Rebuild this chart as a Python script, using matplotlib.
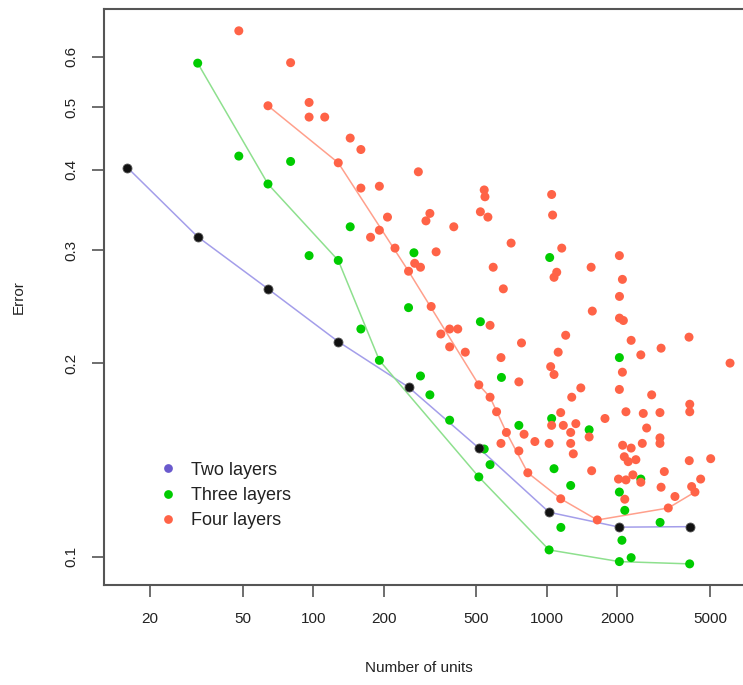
import matplotlib
matplotlib.use("Agg")
import matplotlib.pyplot as plt
from matplotlib.lines import Line2D

plt.rcParams['font.family'] = ['Liberation Sans', 'DejaVu Sans']

# ---- data ----
two_x = [16, 32, 64, 128, 256, 512, 1024, 2048, 4096]
two_y = [0.403, 0.3145, 0.261, 0.216, 0.1835, 0.1475, 0.1172, 0.1111, 0.1113]

three_x = [32, 48, 64, 80, 96, 128, 144, 160, 192, 256, 270, 288, 316, 384, 512, 520,
           540, 572, 640, 760, 1024, 1030, 1050, 1075, 1150, 1267, 1520, 2048, 2048, 2048,
           2100, 2160, 2300, 2530, 3060, 4096]
three_y = [0.586, 0.42, 0.38, 0.412, 0.294, 0.289, 0.326, 0.226, 0.202, 0.244, 0.297, 0.191,
           0.1785, 0.163, 0.133, 0.232, 0.147, 0.139, 0.19, 0.160, 0.1024, 0.292, 0.164, 0.137,
           0.111, 0.129, 0.1575, 0.0982, 0.204, 0.126, 0.106, 0.118, 0.0996, 0.132, 0.113, 0.0974]
three_line_x = [32, 64, 128, 192, 512, 1024, 2048, 4096]
three_line_y = [0.586, 0.38, 0.289, 0.202, 0.133, 0.1024, 0.0982, 0.0974]

four_x = [48, 80, 64, 96, 96, 112, 144, 160, 128, 282, 160, 192, 208, 192, 176, 224, 256, 272,
          288, 540, 544, 316, 304, 520, 560, 400, 336, 590, 320, 1050, 1060, 704, 1160, 1104,
          1075, 1550, 652, 1568, 572, 2048, 2110, 2050, 2050, 2130, 2300, 4070, 3090, 2530,
          6100, 2110, 2048, 1206, 1120, 780, 637, 352, 384, 416, 384, 448, 512, 572, 610, 672,
          637, 760, 760, 800, 830, 890, 1024, 1050, 1040, 1075, 1148, 1178, 1267, 1267, 1300,
          1333, 1400, 1280, 1558, 1777, 1647, 1148, 2185, 2816, 2592, 3056, 4100, 4100, 2680,
          2567, 3056, 3056, 4080, 5040, 3190, 3090, 3543, 3317, 4316, 4177, 4565, 2115, 2300,
          2150, 2234, 2410, 2340, 2185, 2030, 2160, 2530, 1520]
four_y = [0.658, 0.587, 0.503, 0.509, 0.483, 0.483, 0.448, 0.430, 0.410, 0.397, 0.3745, 0.377,
          0.3375, 0.322, 0.314, 0.302, 0.278, 0.286, 0.282, 0.372, 0.363, 0.342, 0.333, 0.344,
          0.3375, 0.326, 0.298, 0.282, 0.245, 0.366, 0.340, 0.3075, 0.302, 0.277, 0.272, 0.282,
          0.261, 0.241, 0.229, 0.294, 0.270, 0.254, 0.235, 0.233, 0.217, 0.2195, 0.211, 0.206,
          0.200, 0.1936, 0.182, 0.221, 0.208, 0.215, 0.204, 0.222, 0.226, 0.226, 0.212, 0.208,
          0.185, 0.177, 0.168, 0.156, 0.150, 0.187, 0.146, 0.155, 0.135, 0.151, 0.150, 0.160,
          0.1975, 0.192, 0.1675, 0.160, 0.156, 0.150, 0.1445, 0.161, 0.183, 0.177, 0.136, 0.164,
          0.114, 0.123, 0.168, 0.1785, 0.167, 0.1675, 0.1726, 0.168, 0.1585, 0.150, 0.153, 0.150,
          0.141, 0.142, 0.1356, 0.1282, 0.124, 0.119, 0.126, 0.1285, 0.132, 0.149, 0.1475, 0.143,
          0.1405, 0.1415, 0.134, 0.1316, 0.132, 0.1228, 0.1305, 0.1535]
four_line_x = [64, 128, 256, 512, 572, 672, 830, 1148, 1647, 3317, 4316]
four_line_y = [0.503, 0.410, 0.278, 0.185, 0.177, 0.156, 0.135, 0.123, 0.114, 0.119, 0.126]

x_ticks = [20, 50, 100, 200, 500, 1000, 2000, 5000]
y_ticks = [0.1, 0.2, 0.3, 0.4, 0.5, 0.6]
labels = ["Two layers", "Three layers", "Four layers"]

# ---- colours ----
c_black = "#111111"
c_green = "#00CC00"
c_red = "#FF6347"
c_blue_leg = "#6A5ACD"
l_blue = "#A49EEA"
l_green = "#8EE08E"
l_red = "#FFA08C"
txt = "#222222"

fig = plt.figure(figsize=(7.43, 6.85), dpi=100)
ax = fig.add_axes([104/743, 1-585/685, (746-104)/743, (585-9)/685])
ax.set_xscale('log')
ax.set_yscale('log')

ax.plot(two_x, two_y, color=l_blue, lw=1.1, zorder=2)
ax.plot(three_line_x, three_line_y, color=l_green, lw=1.1, zorder=2)
ax.plot(four_line_x, four_line_y, color=l_red, lw=1.1, zorder=2)

ms = 42
ax.scatter(three_x, three_y, s=ms, color=c_green, edgecolors='none', zorder=3)
ax.scatter(four_x, four_y, s=ms, color=c_red, edgecolors='none', zorder=3)
ax.scatter(two_x, two_y, s=ms, color=c_black, edgecolors='#555555', linewidths=0.6, zorder=4)

ax.set_xlim(12.7, 7140)
ax.set_ylim(0.0903, 0.7115)

ax.set_xticks(x_ticks)
ax.set_xticklabels([str(v) for v in x_ticks])
ax.set_yticks(y_ticks)
ax.set_yticklabels([f"{v:g}" for v in y_ticks])
ax.xaxis.set_minor_locator(matplotlib.ticker.NullLocator())
ax.yaxis.set_minor_locator(matplotlib.ticker.NullLocator())

ax.tick_params(axis='both', direction='out', length=8.5, width=1.2, color='#555555',
               labelsize=11, labelcolor=txt)
ax.tick_params(axis='x', pad=11)
ax.tick_params(axis='y', pad=10, labelrotation=90)
for lab in ax.get_yticklabels():
    lab.set_va('center')

for sp in ax.spines.values():
    sp.set_color('#555555')
    sp.set_linewidth(1.5)

ax.set_xlabel("Number of units", fontsize=11, color=txt)
ax.set_ylabel("Error", fontsize=11, color=txt)
ax.xaxis.set_label_coords(0.49, -0.132)
ax.yaxis.set_label_coords(-0.1225, 0.5)

handles = [Line2D([], [], ls='none', marker='o', ms=6.3, color=c, mec='none')
           for c in (c_blue_leg, c_green, c_red)]
leg = ax.legend(handles, labels, loc='upper left', bbox_to_anchor=(0.085, 0.214),
                frameon=False, fontsize=13, handlelength=1.0, handletextpad=0.8,
                labelspacing=0.45, borderaxespad=0, borderpad=0)
for t in leg.get_texts():
    t.set_color(txt)

fig.savefig("out.png", dpi=100)
